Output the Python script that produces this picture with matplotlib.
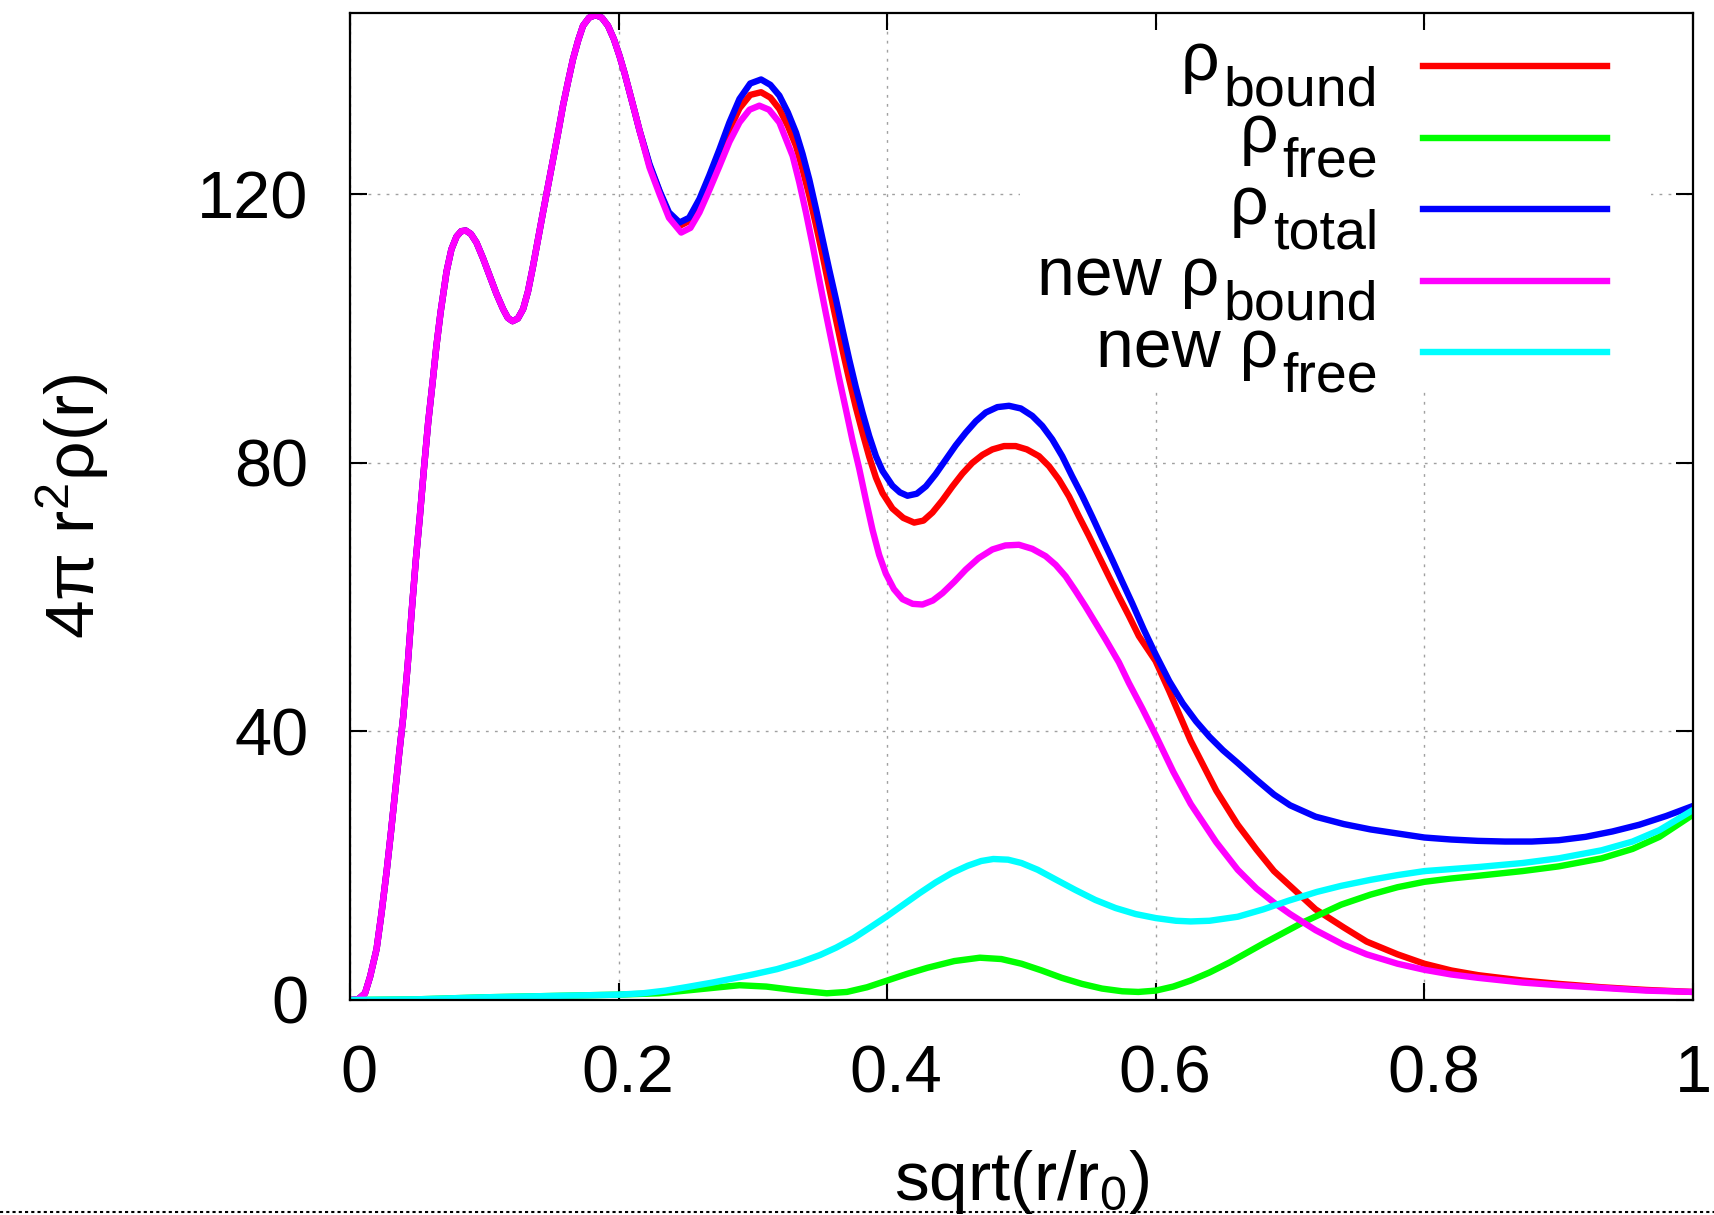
import matplotlib
matplotlib.use("Agg")
import matplotlib.pyplot as plt
from matplotlib.lines import Line2D
from matplotlib.patches import Rectangle
from matplotlib.transforms import ScaledTranslation

# shared rising part: all bound/total curves coincide here
x_core = [0, 0.006, 0.0112, 0.015, 0.0198, 0.0235, 0.0273, 0.0305, 0.0335,
          0.0365, 0.0397, 0.043, 0.0459, 0.049, 0.052, 0.055, 0.0582, 0.0615,
          0.0644, 0.0675, 0.0719, 0.0755, 0.0793, 0.0828, 0.0862, 0.09, 0.0942,
          0.099, 0.1041, 0.109, 0.114, 0.1175, 0.121, 0.125, 0.1289, 0.1325,
          0.1363, 0.14, 0.1437, 0.1475, 0.1512, 0.155, 0.1586, 0.1625, 0.166,
          0.17, 0.1735, 0.178, 0.1829, 0.1875, 0.1921, 0.1965, 0.2007, 0.2045,
          0.2082, 0.212, 0.2156]
y_core = [0, 0.1, 1, 3.5, 7.6, 13, 19.2, 25, 30.7,
          36.5, 42.3, 50, 57.8, 65.5, 72, 79, 86, 92,
          97.5, 102.5, 108.5, 111.8, 113.7, 114.5, 114.6, 114.1, 112.8,
          110.5, 107.8, 105.2, 102.9, 101.6, 101.1, 101.5, 102.9, 105.5,
          109.3, 113.3, 117.3, 121.3, 125.2, 129.2, 133.2, 136.9, 140.1,
          143, 145.1, 146.3, 146.7, 146.3, 145.1, 143.1, 140.6, 138,
          135.2, 132.3, 129.5]

x_total = [0.223, 0.2305, 0.2375, 0.2454, 0.2525, 0.2602, 0.2675, 0.2751,
           0.2825, 0.29, 0.298, 0.3061, 0.313, 0.3197, 0.326, 0.3321, 0.337,
           0.342, 0.347, 0.3519, 0.3568, 0.3618, 0.3667, 0.3717, 0.3766,
           0.3816, 0.3866, 0.3916, 0.3965, 0.4039, 0.4095, 0.4151, 0.422,
           0.4288, 0.436, 0.4437, 0.451, 0.4585, 0.466, 0.4734, 0.482, 0.4907,
           0.4995, 0.508, 0.5155, 0.5229, 0.5303, 0.5377, 0.5452, 0.5526, 0.56,
           0.5675, 0.575, 0.5824, 0.591, 0.5998, 0.61, 0.62, 0.63, 0.64, 0.65,
           0.661, 0.675, 0.688, 0.7, 0.719, 0.74, 0.76, 0.78, 0.8, 0.82, 0.84,
           0.86, 0.88, 0.9, 0.92, 0.94, 0.96, 0.98, 1.0]
y_total = [124.5, 120.5, 117.3, 115.8, 116.5, 119.3, 122.8, 126.7,
           130.7, 134.2, 136.5, 137.1, 136.3, 134.7, 132.2, 129.2, 126,
           122.2, 117.8, 113.3, 108.8, 104.4, 99.9, 95.4, 91.3,
           87.5, 84.0, 81.0, 78.8, 76.6, 75.6, 75.1, 75.4,
           76.5, 78.3, 80.5, 82.6, 84.5, 86.2, 87.5, 88.3, 88.5,
           88.1, 87.0, 85.5, 83.5, 81, 78.0, 75.1, 72.0, 68.8,
           65.6, 62.3, 59.1, 55.2, 51.5, 47.5, 44.2, 41.5, 39.2, 37.2,
           35.3, 32.8, 30.6, 29.0, 27.3, 26.2, 25.4, 24.8, 24.2, 23.9, 23.7,
           23.6, 23.6, 23.8, 24.3, 25.1, 26.1, 27.4, 28.9]

x_bound = [0.223, 0.2305, 0.2375, 0.2454, 0.2525, 0.2602, 0.2675, 0.2751,
           0.2825, 0.29, 0.298, 0.3061, 0.313, 0.3197, 0.326, 0.3321, 0.337,
           0.342, 0.347, 0.3519, 0.3568, 0.3618, 0.3667, 0.3717, 0.3766,
           0.3816, 0.3866, 0.3916, 0.3965, 0.4039, 0.412, 0.4201, 0.427,
           0.4337, 0.441, 0.4486, 0.456, 0.4634, 0.471, 0.4783, 0.487, 0.4957,
           0.504, 0.513, 0.5205, 0.5279, 0.5354, 0.5428, 0.55, 0.5576, 0.565,
           0.5725, 0.58, 0.5874, 0.5998, 0.61, 0.626, 0.645, 0.661, 0.675,
           0.688, 0.7, 0.719, 0.74, 0.757, 0.78, 0.8, 0.82, 0.84, 0.873, 0.9,
           0.932, 0.965, 1.0]
y_bound = [124.3, 120.4, 117.0, 115.3, 116.0, 118.7, 122.0, 125.8,
           129.6, 132.8, 134.8, 135.2, 134.4, 132.7, 130.2, 127.2, 123.7,
           119.8, 115.4, 110.9, 106.1, 101.4, 96.8, 92.4, 88.3,
           84.5, 80.9, 77.8, 75.5, 73.2, 71.8, 71.1, 71.4,
           72.6, 74.4, 76.5, 78.4, 80.0, 81.2, 82.0, 82.5, 82.5,
           82.0, 81.0, 79.5, 77.5, 75.0, 72.0, 69.2, 66.1, 63.1,
           60.1, 57.2, 54.2, 50.5, 46, 38.6, 31.2, 26.1, 22.4,
           19.2, 17, 13.5, 10.8, 8.7, 6.8, 5.4, 4.4, 3.7, 2.9, 2.4,
           1.9, 1.5, 1.2]

x_new_bound = [0.223, 0.2305, 0.2375, 0.2466, 0.2535, 0.2602, 0.2675, 0.2751,
               0.2825, 0.29, 0.2975, 0.3048, 0.312, 0.3197, 0.3296, 0.3345,
               0.3395, 0.3445, 0.3494, 0.3543, 0.3593, 0.3642, 0.3692, 0.3741,
               0.3791, 0.3841, 0.3891, 0.394, 0.399, 0.405, 0.4114, 0.419,
               0.4263, 0.434, 0.4412, 0.45, 0.4585, 0.468, 0.4783, 0.488,
               0.4981, 0.508, 0.518, 0.5255, 0.5329, 0.54, 0.5477, 0.555,
               0.5626, 0.5725, 0.58, 0.59, 0.6, 0.613, 0.626, 0.645, 0.661,
               0.675, 0.688, 0.7, 0.719, 0.74, 0.757, 0.78, 0.8, 0.82, 0.84,
               0.873, 0.9, 0.932, 0.965, 1.0]
y_new_bound = [124.0, 120.0, 116.5, 114.3, 115.0, 117.3, 120.6, 124.2,
               127.8, 130.7, 132.6, 133.2, 132.6, 130.7, 125.7, 121.8,
               117.3, 112.4, 107.3, 102.3, 97.4, 92.6, 88.0, 83.4,
               79.2, 74.5, 70.0, 66.3, 63.5, 61.2, 59.7, 59.0,
               58.9, 59.5, 60.6, 62.3, 64.1, 65.8, 67.1, 67.7,
               67.8, 67.2, 66.1, 64.8, 63.1, 61.0, 58.6, 56.2,
               53.7, 50.3, 47.2, 43.4, 39.4, 34, 29.2, 23.5, 19.4,
               16.6, 14.5, 12.8, 10.4, 8.2, 6.8, 5.4, 4.5, 3.8, 3.3,
               2.6, 2.2, 1.8, 1.4, 1.2]

x_free = [0, 0.05, 0.1, 0.15, 0.2, 0.23, 0.26, 0.29, 0.31, 0.33, 0.355, 0.37,
          0.385, 0.4, 0.415, 0.43, 0.45, 0.469, 0.485, 0.5, 0.515, 0.53, 0.545,
          0.56, 0.575, 0.587, 0.6, 0.613, 0.626, 0.64, 0.655, 0.68, 0.71,
          0.738, 0.76, 0.78, 0.8, 0.82, 0.84, 0.873, 0.9, 0.932, 0.955, 0.975,
          1.0]
y_free = [0, 0.1, 0.4, 0.6, 0.8, 1.0, 1.6, 2.2, 2.0, 1.5, 1.0, 1.2,
          1.9, 2.9, 3.9, 4.8, 5.8, 6.3, 6.1, 5.4, 4.4, 3.3, 2.4,
          1.7, 1.3, 1.2, 1.4, 2.0, 2.9, 4.1, 5.6, 8.4, 11.6,
          14.2, 15.7, 16.8, 17.6, 18.1, 18.5, 19.2, 19.9, 21.1, 22.5, 24.3,
          27.6]

x_new_free = [0, 0.05, 0.1, 0.15, 0.2, 0.218, 0.235, 0.25, 0.27, 0.285, 0.3,
              0.318, 0.335, 0.35, 0.362, 0.375, 0.388, 0.4, 0.412, 0.424,
              0.436, 0.448, 0.46, 0.47, 0.479, 0.49, 0.5, 0.512, 0.525, 0.54,
              0.555, 0.57, 0.585, 0.6, 0.615, 0.626, 0.64, 0.661, 0.68, 0.699,
              0.72, 0.738, 0.76, 0.78, 0.8, 0.84, 0.873, 0.9, 0.932, 0.955,
              0.975, 1.0]
y_new_free = [0, 0.1, 0.4, 0.6, 0.8, 1.0, 1.4, 1.9, 2.6, 3.2, 3.8,
              4.6, 5.6, 6.7, 7.8, 9.2, 10.9, 12.5, 14.2, 15.9,
              17.5, 18.9, 20.0, 20.7, 21.0, 20.9, 20.4, 19.4, 18.0, 16.4,
              14.9, 13.7, 12.8, 12.2, 11.8, 11.7, 11.8, 12.4, 13.5, 14.8,
              16.1, 17.0, 17.9, 18.6, 19.2, 19.8, 20.4, 21.1, 22.3, 23.6,
              25.3, 28.3]

x_ticks = [0, 0.2, 0.4, 0.6, 0.8, 1]
x_labels = ["0", "0.2", "0.4", "0.6", "0.8", "1"]
y_ticks = [0, 40, 80, 120]

leg_prefix = ["ρ", "ρ", "ρ", "new ρ", "new ρ"]
leg_sub = ["bound", "free", "total", "bound", "free"]
colors = ["#ff0000", "#00ff00", "#0000ff", "#ff00ff", "#00ffff"]

plt.rcParams["font.family"] = ["Liberation Sans", "DejaVu Sans"]
plt.rcParams["mathtext.fontset"] = "custom"
plt.rcParams["mathtext.rm"] = "Liberation Sans"
plt.rcParams["mathtext.it"] = "Liberation Sans"

W, H = 1715, 1215


def fx(px):
    return px / W


def fy(py):
    return 1 - py / H


def draw_graph():
    fig = plt.figure(figsize=(W / 100, H / 100), dpi=100)
    ax = fig.add_axes([fx(350), fy(1000), 1343 / W, 987 / H])

    lw = 4.6
    curves = [
        (x_core + x_bound, y_core + y_bound),
        (x_free, y_free),
        (x_core + x_total, y_core + y_total),
        (x_core + x_new_bound, y_core + y_new_bound),
        (x_new_free, y_new_free),
    ]
    for (xs, ys), c in zip(curves, colors):
        ax.plot(xs, ys, color=c, lw=lw, solid_capstyle="round")

    ax.set_xlim(0, 1)
    ax.set_ylim(0, 147)
    ax.set_xticks(x_ticks, x_labels)
    ax.set_yticks(y_ticks)
    ax.grid(True, color="#a0a0a0", linestyle=(0, (2, 4.5)), linewidth=1.0)
    ax.tick_params(direction="in", length=12, width=1.5, top=True, right=True,
                   labelsize=48)
    ax.tick_params(axis="x", pad=32)
    ax.tick_params(axis="y", pad=30)
    # nudge x tick labels right a little, except the last one at the edge
    for lab in ax.get_xticklabels()[:-1]:
        lab.set_transform(lab.get_transform()
                          + ScaledTranslation(0.09, 0, fig.dpi_scale_trans))
    for sp in ax.spines.values():
        sp.set_linewidth(1.6)

    ax.set_xlabel("sqrt(r/r$_0$)", fontsize=50, labelpad=30)
    ax.set_ylabel("4π r$^2$ρ(r)", fontsize=50, labelpad=62)

    # opaque key box hiding the grid, like gnuplot's "key opaque"
    ax.add_patch(Rectangle((fx(1020), fy(387)), fx(1651) - fx(1020),
                           fy(31) - fy(387), transform=fig.transFigure,
                           facecolor="white", edgecolor="none", zorder=1.8))

    renderer = fig.canvas.get_renderer()
    for i, (pre, sub, c) in enumerate(zip(leg_prefix, leg_sub, colors)):
        ly = 66 + 71.6 * i
        fig.add_artist(Line2D([fx(1423), fx(1607)], [fy(ly), fy(ly)],
                              transform=fig.transFigure, color=c, lw=lw))
        t = fig.text(fx(1378), fy(ly + 39), sub, fontsize=40,
                     ha="right", va="baseline")
        left = t.get_window_extent(renderer).x0
        fig.text(fx(left - 4), fy(ly + 14.5), pre, fontsize=49,
                 ha="right", va="baseline")

    # dotted page edge along the bottom
    fig.add_artist(Line2D([0, 1], [fy(1212), fy(1212)],
                          transform=fig.transFigure, color="black",
                          linestyle=(0, (1.5, 1.5)), lw=1.5))

    fig.savefig("out.png", dpi=100)


if __name__ == "__main__":
    draw_graph()
